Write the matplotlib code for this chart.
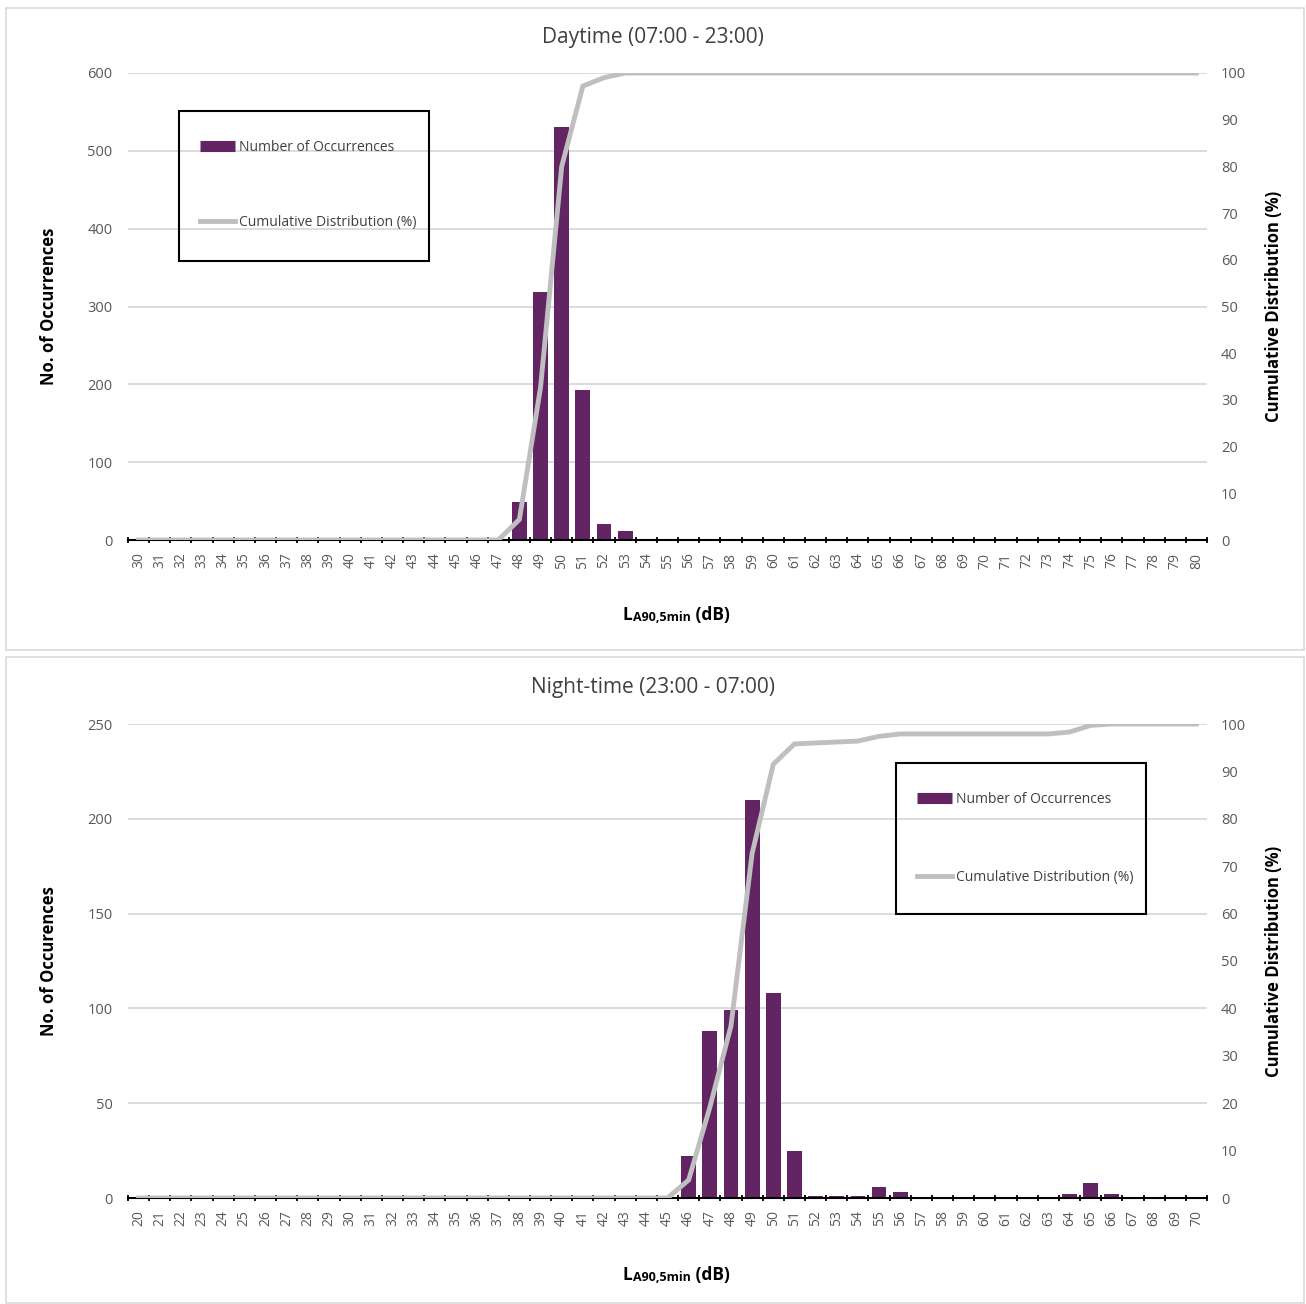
import numpy as np
import matplotlib.pyplot as plt
from matplotlib.lines import Line2D
from matplotlib.patches import Rectangle

plt.rcParams['font.family'] = ['Open Sans', 'DejaVu Sans']

# daytime data (LA90,5min, 30..80 dB)
day_levels = list(range(30, 81))
day_counts = [0, 0, 0, 0, 0, 0, 0, 0, 0, 0, 0, 0, 0, 0, 0, 0, 0, 0,
              49, 319, 531, 193, 21, 11,
              0, 0, 0, 0, 0, 0, 0, 0, 0, 0, 0, 0, 0, 0, 0, 0, 0, 0, 0, 0, 0, 0, 0, 0, 0, 0, 0]
day_cum = [0, 0, 0, 0, 0, 0, 0, 0, 0, 0, 0, 0, 0, 0, 0, 0, 0, 0,
           4.4, 32.7, 80.0, 97.2, 99.0,
           100, 100, 100, 100, 100, 100, 100, 100, 100, 100, 100, 100, 100, 100,
           100, 100, 100, 100, 100, 100, 100, 100, 100, 100, 100, 100, 100, 100]

# night-time data (20..70 dB)
night_levels = list(range(20, 71))
night_counts = [0, 0, 0, 0, 0, 0, 0, 0, 0, 0, 0, 0, 0, 0, 0, 0, 0, 0, 0, 0, 0, 0, 0, 0, 0, 0,
                22, 88, 99, 210, 108, 25, 1, 1, 1, 6, 3,
                0, 0, 0, 0, 0, 0, 0,
                2, 8, 2,
                0, 0, 0, 0]
night_cum = [0, 0, 0, 0, 0, 0, 0, 0, 0, 0, 0, 0, 0, 0, 0, 0, 0, 0, 0, 0, 0, 0, 0, 0, 0, 0,
             3.8, 19.1, 36.3, 72.7, 91.5, 95.8, 96.0, 96.2, 96.4, 97.4, 97.9,
             97.9, 97.9, 97.9, 97.9, 97.9, 97.9, 97.9,
             98.3, 99.7, 100,
             100, 100, 100, 100]

BAR = '#622463'
LINE = '#BFBFBF'
GRID = '#D9D9D9'
TICK = '#595959'

W, H = 1306, 1304
fig = plt.figure(figsize=(W / 100, H / 100), dpi=100)


def fx(px):
    return px / W


def fy(py):
    return 1 - py / H


def frame(x0, y0, x1, y1, color, lw):
    fig.patches.append(Rectangle((fx(x0), fy(y1)), fx(x1 - x0), (y1 - y0) / H,
                                 transform=fig.transFigure, fill=False,
                                 edgecolor=color, lw=lw, zorder=10))


def panel(box, rect, levels, counts, cum, ymax, ystep, title, title_y,
          ylabel, xlabel_y, leg_box, leg_spacing):
    # light frame round the chart
    frame(*box, GRID, 1.2)
    ax = fig.add_axes(rect)
    x = np.arange(len(levels))
    ax.bar(x, counts, width=0.7, color=BAR, zorder=3)
    ax.set_xlim(-0.5, len(levels) - 0.5)
    ax.set_ylim(0, ymax)
    ax.set_yticks(np.arange(0, ymax + 1, ystep))
    ax.set_xticks(x)
    ax.set_xticklabels([str(v) for v in levels], rotation=90)
    ax.set_xticks(np.arange(-0.5, len(levels), 1), minor=True)
    ax.tick_params(axis='x', which='major', length=0, pad=9, labelsize=10, labelcolor=TICK)
    ax.tick_params(axis='x', which='minor', length=5, width=1.3, direction='inout')
    ax.tick_params(axis='y', length=0, pad=11, labelsize=10.5, labelcolor=TICK)
    ax.grid(axis='y', color=GRID, lw=1.3, zorder=0)
    ax.set_axisbelow(True)
    for s in ['top', 'left', 'right']:
        ax.spines[s].set_visible(False)
    ax.spines['bottom'].set_linewidth(1.5)
    ax.spines['bottom'].set_zorder(5)
    ax.set_ylabel(ylabel, fontsize=12, fontweight='bold', labelpad=21)

    ax2 = ax.twinx()
    ax2.plot(x, cum, color=LINE, lw=3.5, solid_joinstyle='miter')
    ax2.set_ylim(0, 100)
    ax2.set_yticks(np.arange(0, 101, 10))
    ax2.tick_params(axis='y', length=0, pad=10, labelsize=10.5, labelcolor=TICK)
    for s in ['top', 'left', 'right', 'bottom']:
        ax2.spines[s].set_visible(False)
    ax2.set_ylabel('Cumulative Distribution (%)', fontsize=12, fontweight='bold',
                   labelpad=14)

    fig.text(0.5, fy(title_y), title, ha='center', va='center', fontsize=15, color='#404040')

    # x label with small subscript
    t1 = fig.text(fx(623), fy(xlabel_y), 'L', ha='left', va='bottom', fontsize=12.5,
                  fontweight='bold')
    t2 = ax.annotate('A90,5min', xy=(1, 0), xycoords=t1, ha='left', va='bottom',
                     fontsize=9, fontweight='bold', annotation_clip=False)
    ax.annotate(' (dB)', xy=(1, 0), xycoords=t2, ha='left', va='bottom',
                fontsize=12.5, fontweight='bold', annotation_clip=False)

    # legend: black box drawn separately, entries placed inside it
    frame(*leg_box, 'black', 1.5)
    handles = [Line2D([], [], color=BAR, lw=8, solid_capstyle='butt'),
               Line2D([], [], color=LINE, lw=3.5)]
    leg = ax2.legend(handles, ['Number of Occurrences', 'Cumulative Distribution (%)'],
                     loc='upper left',
                     bbox_to_anchor=(fx(leg_box[0] + 21), fy(leg_box[1] + 29)),
                     bbox_transform=fig.transFigure, fontsize=10, frameon=False,
                     borderpad=0, labelspacing=leg_spacing, handlelength=2.5,
                     handletextpad=0.3, borderaxespad=0)
    for t in leg.get_texts():
        t.set_color('#404040')
    return ax, ax2


panel((6, 8, 1304, 650), [fx(128), fy(540), fx(1207) - fx(128), (540 - 73) / H],
      day_levels, day_counts, day_cum, 600, 100, 'Daytime (07:00 - 23:00)', 37,
      'No. of Occurrences', 624, (179, 111, 429, 261), 4.3)

panel((6, 657, 1304, 1303), [fx(128), fy(1198), fx(1207) - fx(128), (1198 - 724) / H],
      night_levels, night_counts, night_cum, 250, 50, 'Night-time (23:00 - 07:00)', 688,
      'No. of Occurences', 1284, (896, 763, 1146, 914), 4.5)

fig.savefig('out.png', dpi=100, facecolor='white')
